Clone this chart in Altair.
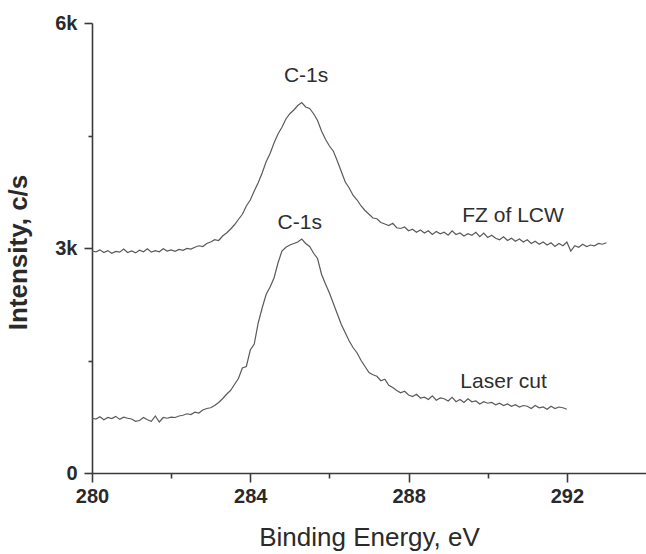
import altair as alt
import pandas as pd

# ---- data (counts per second) ----
fz_start, fz_step = 280.0, 0.1
fz_counts = [
    2960, 2950, 2975, 2940, 2965, 2930, 2955, 2945, 2985, 2940,
    2960, 2935, 2970, 2950, 2990, 2945, 2965, 2950, 2990, 2960,
    2975, 2955, 2980, 2970, 2995, 2985, 3010, 3030, 3020, 3060,
    3080, 3110, 3100, 3160, 3200, 3250, 3310, 3380, 3450, 3560,
    3640, 3760, 3870, 4000, 4150, 4260, 4400, 4520, 4610, 4720,
    4790, 4840, 4900, 4940, 4880, 4860, 4790, 4700, 4560, 4450,
    4360, 4290, 4160, 4020, 3880, 3800, 3700, 3640, 3560, 3500,
    3450, 3400, 3390, 3340, 3320, 3300, 3330, 3270, 3260, 3280,
    3230, 3250, 3210, 3240, 3200, 3230, 3180, 3220, 3190, 3210,
    3170, 3230, 3180, 3200, 3160, 3190, 3170, 3210, 3150, 3200,
    3140, 3170, 3130, 3110, 3150, 3100, 3130, 3090, 3120, 3080,
    3110, 3060, 3090, 3050, 3080, 3040, 3070, 3020, 3060, 3030,
    3080, 2960, 3030, 3010, 3050, 3020, 3040, 3030, 3060, 3050,
    3070,
]

lc_start, lc_step = 280.0, 0.1
lc_counts = [
    730, 720, 750, 710, 740, 725, 755, 715, 745, 730,
    720, 690, 700, 740, 710, 690, 760, 680, 740, 730,
    745, 740, 760, 770, 790, 780, 810, 800, 840, 860,
    870, 900, 940, 990, 1050, 1100, 1180, 1260, 1400, 1420,
    1640, 1720, 2000, 2200, 2380, 2480, 2600, 2800, 2960, 3010,
    3040, 3060, 3080, 3120, 3060, 3020, 2930, 2860, 2650, 2520,
    2400, 2260, 2120, 1980, 1870, 1760, 1670, 1600, 1500, 1420,
    1340, 1310, 1290, 1230, 1250, 1170, 1140, 1100, 1070, 1090,
    1040, 1020, 1050, 1000, 1010, 980, 1030, 970, 1000, 990,
    960, 1010, 950, 980, 940, 990, 950, 960, 920, 950,
    930, 940, 910, 930, 900, 920, 890, 910, 880, 900,
    890, 860, 900, 870, 880, 850, 890, 860, 880, 870,
    850,
]

label_text = ["C-1s", "C-1s", "FZ of LCW", "Laser cut"]
label_x = [285.41, 285.25, 290.64, 290.40]
label_y = [5210, 3260, 3343, 1129]

x_ticks = [280, 282, 284, 286, 288, 290, 292]
y_ticks = [0, 1500, 3000, 4500, 6000]

# ---- tables ----
rows = []
for i, c in enumerate(fz_counts):
    rows.append({"series": "FZ of LCW", "energy": round(fz_start + fz_step * i, 2), "counts": c})
for i, c in enumerate(lc_counts):
    rows.append({"series": "Laser cut", "energy": round(lc_start + lc_step * i, 2), "counts": c})
spec_df = pd.DataFrame(rows)
lab_df = pd.DataFrame({"text": label_text, "x": label_x, "y": label_y})

FONT = "Liberation Sans"
AX = "#3a3a3a"

x_scale = alt.Scale(domain=[280, 294], nice=False, zero=False)
y_scale = alt.Scale(domain=[0, 6000], nice=False)

x_axis = alt.Axis(
    title="Binding Energy, eV",
    values=x_ticks,
    labelExpr="datum.value % 4 === 0 ? datum.value : ''",
    labelFlush=False,
    labelOverlap=False,
    labelFont=FONT,
    labelFontSize=20,
    labelFontWeight="bold",
    labelColor="#2a2a2a",
    labelPadding=4,
    tickSize={"condition": {"test": "datum.value % 4 === 0", "value": 9}, "value": 5},
    titleFont=FONT,
    titleFontSize=26,
    titleFontWeight="normal",
    titleColor="#2a2a2a",
    titleX=277,
    titleY=72,
    titleBaseline="alphabetic",
    titleAlign="center",
    grid=False,
)

y_axis = alt.Axis(
    title="Intensity, c/s",
    values=y_ticks,
    labelExpr="datum.value === 0 ? '0' : (datum.value % 3000 === 0 ? (datum.value / 1000) + 'k' : '')",
    labelFlush=False,
    labelOverlap=False,
    labelFont=FONT,
    labelFontSize=20,
    labelFontWeight="bold",
    labelColor="#2a2a2a",
    labelPadding=7,
    tickSize={"condition": {"test": "datum.value % 3000 === 0", "value": 8}, "value": 4},
    titleFont=FONT,
    titleFontSize=26,
    titleFontWeight="bold",
    titleColor="#2a2a2a",
    titleAngle=-90,
    titleX=-74,
    titleY=229,
    titleBaseline="middle",
    titleAlign="center",
    grid=False,
)

lines = alt.Chart(spec_df).mark_line(color="#5a5a5a", strokeWidth=1.2).encode(
    x=alt.X("energy:Q", scale=x_scale, axis=x_axis),
    y=alt.Y("counts:Q", scale=y_scale, axis=y_axis),
    detail="series:N",
    order="energy:Q",
)

texts = alt.Chart(lab_df).mark_text(
    font=FONT, fontSize=21, color="#2e2e2e", align="center", baseline="alphabetic"
).encode(
    x=alt.X("x:Q", scale=x_scale),
    y=alt.Y("y:Q", scale=y_scale),
    text="text:N",
)

chart = (
    alt.layer(lines, texts)
    .properties(
        width=554,
        height=450,
        padding={"left": 92, "top": 23, "right": 0, "bottom": 81},
        autosize=alt.AutoSizeParams(type="none"),
        background="white",
    )
    .configure_view(stroke=None)
    .configure_axis(domainColor=AX, domainWidth=1.6, tickColor=AX, tickWidth=1.6)
)

chart.save("out.html", embed_options={"renderer": "svg", "actions": False})
